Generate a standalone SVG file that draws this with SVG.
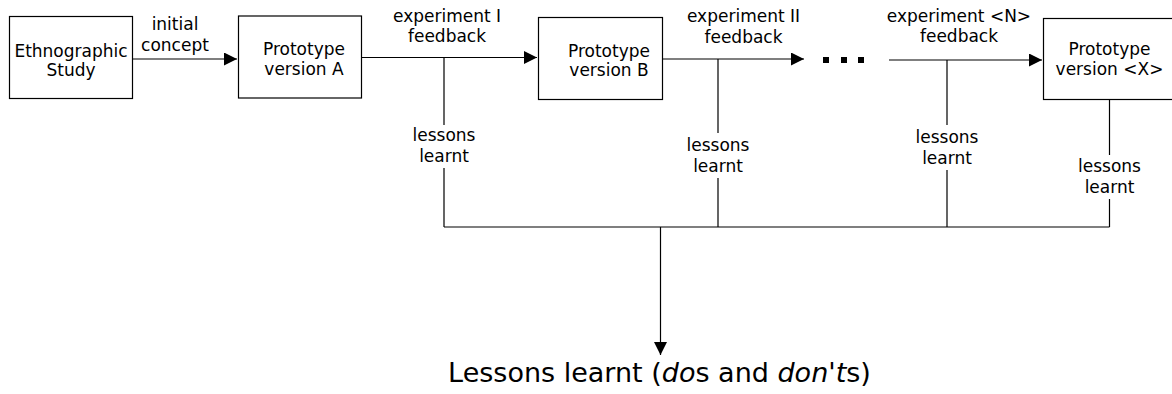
<svg xmlns="http://www.w3.org/2000/svg" width="1172" height="394" viewBox="0 0 1172 394">
<style>
text{font-family:"DejaVu Sans","Liberation Sans",sans-serif;font-size:17px;fill:#000;text-anchor:middle}
.box{fill:#fff;stroke:#000;stroke-width:1.2}
.ln{fill:none;stroke:#000;stroke-width:1.2}
.big{font-size:27px}
</style>
<defs>
<marker id="ah" markerUnits="userSpaceOnUse" markerWidth="14" markerHeight="14" refX="13" refY="6.5" orient="auto">
<path d="M0,0 L13,6.5 L0,13 Z" fill="#000"/>
</marker>
</defs>
<g id="connectors">
<path class="ln" d="M132.5,59 H237" marker-end="url(#ah)"/>
<path class="ln" d="M361.5,57.5 H537" marker-end="url(#ah)"/>
<path class="ln" d="M662.5,59 H804" marker-end="url(#ah)"/>
<path class="ln" d="M889,60 H1042" marker-end="url(#ah)"/>
<path class="ln" d="M444,57.5 V125 M444,168 V227"/>
<path class="ln" d="M718,59 V133 M718,178 V227"/>
<path class="ln" d="M947,60 V125 M947,170 V227"/>
<path class="ln" d="M1109.5,99 V155 M1109.5,199 V227"/>
<path class="ln" d="M444,227 H1109.5"/>
<path class="ln" d="M660.5,227 V355" marker-end="url(#ah)"/>
<rect x="823" y="57" width="6" height="6" fill="#000"/>
<rect x="841" y="57" width="6" height="6" fill="#000"/>
<rect x="858" y="57" width="6" height="6" fill="#000"/>
<text x="175" y="30">initial</text>
<text x="175" y="50.5">concept</text>
<text x="447" y="21.5">experiment I</text>
<text x="447" y="41.5">feedback</text>
<text x="743.5" y="21.5">experiment II</text>
<text x="743.5" y="43">feedback</text>
<text x="959" y="21.5">experiment &lt;N&gt;</text>
<text x="959" y="41.5">feedback</text>
<text x="444" y="140.5">lessons</text>
<text x="444" y="161.5">learnt</text>
<text x="718" y="150.5">lessons</text>
<text x="718" y="171.5">learnt</text>
<text x="947" y="143">lessons</text>
<text x="947" y="164">learnt</text>
<text x="1109.5" y="172">lessons</text>
<text x="1109.5" y="192.5">learnt</text>
</g>
<g id="ethnographic">
<rect class="box" x="9.5" y="16.5" width="123" height="82"/>
<text x="71" y="57">Ethnographic</text>
<text x="71" y="76">Study</text>
</g>
<g id="protoA">
<rect class="box" x="238.5" y="16" width="123" height="82"/>
<text x="304" y="55">Prototype</text>
<text x="304" y="75">version A</text>
</g>
<g id="protoB">
<rect class="box" x="538.5" y="17.5" width="124" height="82"/>
<text x="609" y="57">Prototype</text>
<text x="609" y="76">version B</text>
</g>
<g id="protoX">
<rect class="box" x="1043.5" y="18.5" width="132" height="81"/>
<text x="1109.5" y="55">Prototype</text>
<text x="1109.5" y="75">version &lt;X&gt;</text>
</g>
<g id="result">
<text class="big" x="659.5" y="382">Lessons learnt (<tspan font-style="italic">do</tspan>s and <tspan font-style="italic">don</tspan>'<tspan font-style="italic">t</tspan>s)</text>
</g>
</svg>
